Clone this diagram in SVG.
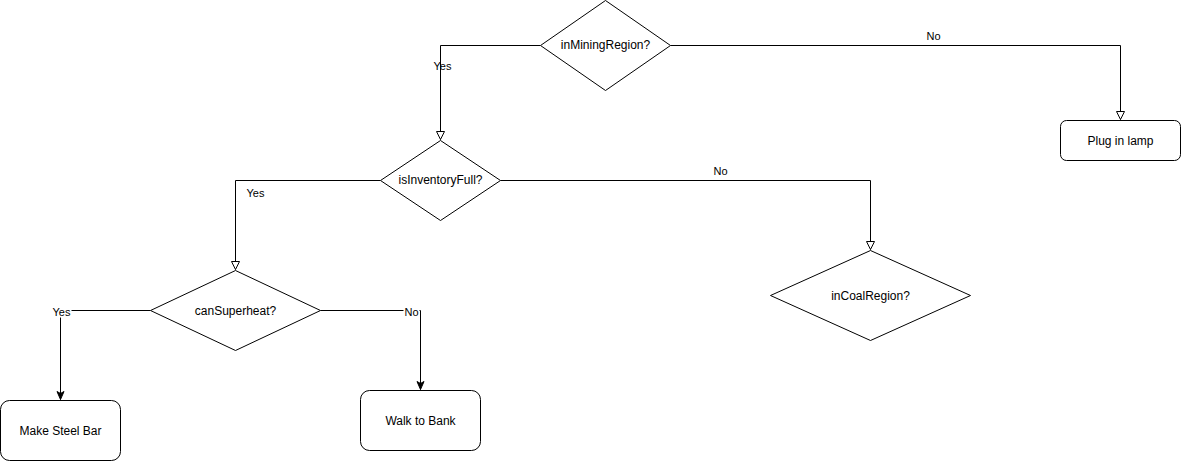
<svg xmlns="http://www.w3.org/2000/svg" width="1181" height="461" viewBox="0 0 1181 461">
<style>
.shape{fill:#fff;stroke:#000;stroke-width:1}
.edge{fill:none;stroke:#000;stroke-width:1}
.t{font-family:"Liberation Sans",Arial,sans-serif;font-size:12px;fill:#000;text-anchor:middle;dominant-baseline:central}
.l{font-family:"Liberation Sans",Arial,sans-serif;font-size:11px;fill:#000;text-anchor:middle;dominant-baseline:central}
</style>
<defs>
<marker id="open" markerWidth="10" markerHeight="10" refX="9" refY="5" orient="auto" markerUnits="userSpaceOnUse">
<path d="M1,1 L9,5 L1,9 Z" fill="#fff" stroke="#000" stroke-width="1"/>
</marker>
<marker id="block" markerWidth="10" markerHeight="10" refX="9" refY="5" orient="auto" markerUnits="userSpaceOnUse">
<path d="M1,1.5 L9,5 L1,8.5 L3,5 Z" fill="#000" stroke="#000" stroke-width="1"/>
</marker>
</defs>
<rect width="1181" height="461" fill="#fff"/>
<g transform="translate(0.5,0.5)">
<g id="connectors">
<path class="edge" d="M540,45 H440 V139" marker-end="url(#open)"/>
<path class="edge" d="M670,45 H1120 V119" marker-end="url(#open)"/>
<path class="edge" d="M380,180 H235 V269" marker-end="url(#open)"/>
<path class="edge" d="M500,180 H870 V249" marker-end="url(#open)"/>
<path class="edge" d="M150,310 H60 V399" marker-end="url(#block)"/>
<path class="edge" d="M320,310 H420 V389" marker-end="url(#block)"/>
<text class="l" x="442" y="65">Yes</text>
<text class="l" x="933" y="35">No</text>
<text class="l" x="255" y="192">Yes</text>
<text class="l" x="720" y="170">No</text>
<rect x="51" y="304" width="20" height="13" fill="#fff"/>
<text class="l" x="61" y="311">Yes</text>
<rect x="403" y="304" width="16" height="13" fill="#fff"/>
<text class="l" x="411" y="311">No</text>
</g>
<g id="inMiningRegion">
<polygon class="shape" points="605,0 670,45 605,90 540,45"/>
<text class="t" x="605" y="44">inMiningRegion?</text>
</g>
<g id="plugInLamp">
<rect class="shape" x="1060" y="120" width="120" height="40" rx="6"/>
<text class="t" x="1120" y="140">Plug in lamp</text>
</g>
<g id="isInventoryFull">
<polygon class="shape" points="440,140 500,180 440,220 380,180"/>
<text class="t" x="440" y="179">isInventoryFull?</text>
</g>
<g id="inCoalRegion">
<polygon class="shape" points="870,250 970,295 870,340 770,295"/>
<text class="t" x="870" y="295">inCoalRegion?</text>
</g>
<g id="canSuperheat">
<polygon class="shape" points="235,270 320,310 235,350 150,310"/>
<text class="t" x="235" y="310">canSuperheat?</text>
</g>
<g id="makeSteelBar">
<rect class="shape" x="0" y="400" width="120" height="60" rx="9"/>
<text class="t" x="60" y="430">Make Steel Bar</text>
</g>
<g id="walkToBank">
<rect class="shape" x="360" y="390" width="120" height="60" rx="9"/>
<text class="t" x="420" y="420">Walk to Bank</text>
</g>
</g>
</svg>
